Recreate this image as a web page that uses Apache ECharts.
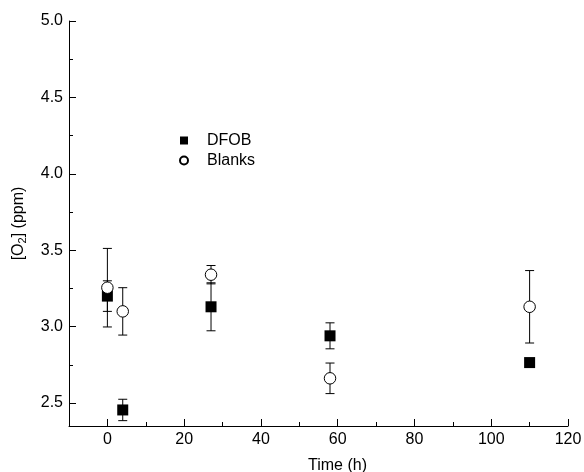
<!DOCTYPE html>
<html>
<head>
<meta charset="utf-8">
<script src="https://cdn.jsdelivr.net/npm/echarts@6/dist/echarts.min.js"></script>
<style>
html,body{margin:0;padding:0;background:#fff;}
#chart{width:584px;height:472px;}
</style>
</head>
<body>
<div id="chart"></div>
<script>
// ---- data ----
var times = [0, 4, 27, 58, 110];
var dfobValues = [3.20, 2.455, 3.13, 2.94, 2.765];
var dfobErrors = [0.10, 0.07, 0.157, 0.085, 0.02];
var blankValues = [3.255, 3.10, 3.34, 2.662, 3.13];
var blankErrors = [0.257, 0.155, 0.06, 0.10, 0.237];

var xMajorTicks = [0, 20, 40, 60, 80, 100, 120];
var xMinorTicks = [10, 30, 50, 70, 90, 110];
var yMajorTicks = [2.5, 3.0, 3.5, 4.0, 4.5, 5.0];
var yMinorTicks = [2.75, 3.25, 3.75, 4.25, 4.75];

var xRange = [-10, 120];
var yRange = [2.35, 5.0];

function pts(xs, ys) { return xs.map(function (x, i) { return [x, ys[i]]; }); }
function errPts(xs, ys, es) { return xs.map(function (x, i) { return [x, ys[i], es[i]]; }); }

var FONT = '"Liberation Sans", Arial, Helvetica, sans-serif';
var FS = 16;

function errorRender(params, api) {
  var x = api.value(0), y = api.value(1), e = api.value(2);
  var top = api.coord([x, y + e]);
  var bot = api.coord([x, y - e]);
  var hw = 4.5;
  var st = { stroke: '#000', lineWidth: 1 };
  return {
    type: 'group',
    children: [
      { type: 'line', shape: { x1: top[0], y1: top[1], x2: bot[0], y2: bot[1] }, style: st },
      { type: 'line', shape: { x1: top[0] - hw, y1: top[1], x2: top[0] + hw, y2: top[1] }, style: st },
      { type: 'line', shape: { x1: bot[0] - hw, y1: bot[1], x2: bot[0] + hw, y2: bot[1] }, style: st }
    ]
  };
}

var chart = echarts.init(document.getElementById('chart'), null, { renderer: 'canvas' });
var axisLineStyle = { color: '#000', width: 1 };

var option = {
  backgroundColor: '#fff',
  animation: false,
  textStyle: { fontFamily: FONT },
  grid: { left: 69, right: 16, top: 21, bottom: 46, containLabel: false, outerBoundsMode: 'none' },
  legend: {
    orient: 'vertical',
    left: 174,
    top: 127,
    itemWidth: 8,
    itemHeight: 8,
    itemGap: 3,
    textStyle: { fontFamily: FONT, fontSize: FS, color: '#000', lineHeight: 17, padding: [0, 0, 0, 14] },
    data: [
      { name: 'DFOB', icon: 'rect' },
      { name: 'Blanks', icon: 'circle' }
    ]
  },
  xAxis: [
    {
      type: 'value', min: xRange[0], max: xRange[1], position: 'bottom',
      name: 'Time (h)', nameLocation: 'middle', nameGap: 32,
      nameTextStyle: { fontFamily: FONT, fontSize: FS, color: '#000', padding: [0, 0, 0, 38] },
      axisLine: { show: true, onZero: false, lineStyle: axisLineStyle },
      axisTick: { show: true, inside: true, length: 7, customValues: xMajorTicks, lineStyle: axisLineStyle },
      axisLabel: { customValues: xMajorTicks, margin: 6, fontFamily: FONT, fontSize: FS, color: '#000' },
      splitLine: { show: false }
    },
    {
      type: 'value', min: xRange[0], max: xRange[1], position: 'bottom',
      axisLine: { show: false, onZero: false },
      axisTick: { show: true, inside: true, length: 4, customValues: xMinorTicks, lineStyle: axisLineStyle },
      axisLabel: { show: false },
      splitLine: { show: false }
    }
  ],
  yAxis: [
    {
      type: 'value', min: yRange[0], max: yRange[1], position: 'left',
      name: '[O{sub|2}] (ppm)', nameLocation: 'middle', nameGap: 41,
      nameTextStyle: {
        fontFamily: FONT, fontSize: FS, color: '#000',
        rich: { sub: { fontFamily: FONT, fontSize: 11, color: '#000', verticalAlign: 'bottom', padding: [8, 0, 0, 0] } }
      },
      axisLine: { show: true, onZero: false, lineStyle: axisLineStyle },
      axisTick: { show: true, inside: true, length: 7, customValues: yMajorTicks, lineStyle: axisLineStyle },
      axisLabel: {
        customValues: yMajorTicks, margin: 6, fontFamily: FONT, fontSize: FS, color: '#000',
        formatter: function (v) { return v.toFixed(1); }
      },
      splitLine: { show: false }
    },
    {
      type: 'value', min: yRange[0], max: yRange[1], position: 'left',
      axisLine: { show: false, onZero: false },
      axisTick: { show: true, inside: true, length: 4, customValues: yMinorTicks, lineStyle: axisLineStyle },
      axisLabel: { show: false },
      splitLine: { show: false }
    }
  ],
  series: [
    {
      type: 'custom', name: 'DFOB err', xAxisIndex: 0, yAxisIndex: 0,
      renderItem: errorRender, encode: { x: 0, y: 1 },
      data: errPts(times, dfobValues, dfobErrors), silent: true
    },
    {
      type: 'scatter', name: 'DFOB', xAxisIndex: 0, yAxisIndex: 0,
      symbol: 'rect', symbolSize: 11,
      itemStyle: { color: '#000', opacity: 1 },
      data: pts(times, dfobValues)
    },
    {
      type: 'custom', name: 'Blanks err', xAxisIndex: 0, yAxisIndex: 0,
      renderItem: errorRender, encode: { x: 0, y: 1 },
      data: errPts(times, blankValues, blankErrors), silent: true
    },
    {
      type: 'scatter', name: 'Blanks', xAxisIndex: 0, yAxisIndex: 0,
      symbol: 'circle', symbolSize: 11.5,
      itemStyle: { color: '#fff', borderColor: '#000', borderWidth: 1, opacity: 1 },
      data: pts(times, blankValues)
    }
  ]
};
chart.setOption(option);
</script>
</body>
</html>
